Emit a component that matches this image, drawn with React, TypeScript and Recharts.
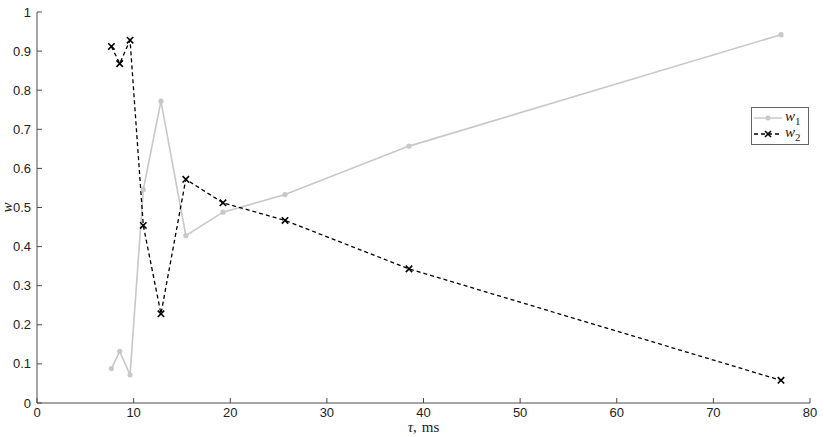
import React from 'react';
import { LineChart, Line, XAxis, YAxis, Label } from 'recharts';

const tau = [7.7, 8.56, 9.63, 11.0, 12.83, 15.4, 19.25, 25.67, 38.5, 77];
const w1 = [0.088, 0.132, 0.072, 0.546, 0.772, 0.428, 0.488, 0.533, 0.657, 0.942];
const w2 = [0.912, 0.868, 0.928, 0.454, 0.228, 0.572, 0.512, 0.467, 0.343, 0.058];
const xTicks = [0, 10, 20, 30, 40, 50, 60, 70, 80];
const yTicks = [0, 0.1, 0.2, 0.3, 0.4, 0.5, 0.6, 0.7, 0.8, 0.9, 1];

const data = tau.map((t, i) => ({ tau: t, w1: w1[i], w2: w2[i] }));

const AXIS = '#4a4a4a';
const TXT = '#222';
const W1C = '#c8c8c8';
const FONT = '"Liberation Sans", Arial, sans-serif';
const SERIF = '"Liberation Serif", "DejaVu Serif", serif';

const XTick = (props: any) => {
  const { x, y, payload } = props;
  return (
    <g>
      <line x1={x} x2={x} y1={y} y2={y - 5} stroke={AXIS} strokeWidth={1} />
      <text x={x} y={y} dy={14} textAnchor="middle" fontSize={13} fontFamily={FONT} fill={TXT}>
        {payload.value}
      </text>
    </g>
  );
};

const YTick = (props: any) => {
  const { x, y, payload } = props;
  return (
    <g>
      <line x1={x + 6} x2={x + 11} y1={y} y2={y} stroke={AXIS} strokeWidth={1} />
      <text x={x} y={y} dy={4.5} textAnchor="end" fontSize={13} fontFamily={FONT} fill={TXT}>
        {String(payload.value)}
      </text>
    </g>
  );
};

const CrossDot = (props: any) => {
  const { cx, cy, index } = props;
  if (cx == null || cy == null) return null;
  const s = 3.2;
  return (
    <path
      key={`c${index}`}
      d={`M${cx - s},${cy - s}L${cx + s},${cy + s}M${cx - s},${cy + s}L${cx + s},${cy - s}`}
      stroke="#000"
      strokeWidth={1.6}
      fill="none"
    />
  );
};

const RoundDot = (props: any) => {
  const { cx, cy, index } = props;
  if (cx == null || cy == null) return null;
  return <circle key={`d${index}`} cx={cx} cy={cy} r={2.6} fill={W1C} stroke="none" />;
};

const LegendBox = () => (
  <div
    style={{
      position: 'absolute',
      left: 751,
      top: 107,
      border: '1px solid #666',
      background: '#fff',
      width: 58,
      height: 38,
      boxSizing: 'border-box',
      padding: '2px 0 0 1px',
      fontFamily: SERIF,
      fontSize: 15,
      lineHeight: '16px',
    }}
  >
    <div style={{ display: 'flex', alignItems: 'center', height: 16 }}>
      <svg width={30} height={10}>
        <line x1={1} x2={29} y1={5} y2={5} stroke={W1C} strokeWidth={1.5} />
        <circle cx={15} cy={5} r={2.5} fill={W1C} />
      </svg>
      <span style={{ color: TXT, marginLeft: 2 }}>
        <i>w</i>
        <sub style={{ fontSize: 11 }}>1</sub>
      </span>
    </div>
    <div style={{ display: 'flex', alignItems: 'center', height: 16 }}>
      <svg width={30} height={10}>
        <line x1={1} x2={29} y1={5} y2={5} stroke="#000" strokeWidth={1.3} strokeDasharray="4 3" />
        <path d="M12,2L18,8M12,8L18,2" stroke="#000" strokeWidth={1.6} />
      </svg>
      <span style={{ color: TXT, marginLeft: 2 }}>
        <i>w</i>
        <sub style={{ fontSize: 11 }}>2</sub>
      </span>
    </div>
  </div>
);

const XLabel = (props: any) => {
  const { viewBox } = props;
  const cx = viewBox.x + viewBox.width / 2;
  return (
    <text x={cx} y={viewBox.y + 29} textAnchor="middle" fontSize={15} fontFamily={SERIF} fill={TXT}>
      <tspan fontStyle="italic">τ</tspan>
      <tspan>,</tspan>
      <tspan dx={5}>ms</tspan>
    </text>
  );
};

const YLabel = (props: any) => {
  const { viewBox } = props;
  const x = viewBox.x + 7;
  const y = viewBox.y + viewBox.height / 2;
  return (
    <text
      x={x}
      y={y}
      textAnchor="middle"
      dominantBaseline="central"
      fontSize={15}
      fontStyle="italic"
      fontFamily={SERIF}
      fill={TXT}
      transform={`rotate(-90 ${x} ${y})`}
    >
      w
    </text>
  );
};

export default function App() {
  return (
    <div style={{ position: 'absolute', left: 0, top: 0, width: 824, height: 437, background: '#fff' }}>
      <LineChart width={824} height={437} data={data} margin={{ top: 12, right: 14, bottom: 0, left: 0 }}>
        <XAxis
          dataKey="tau"
          type="number"
          domain={[0, 80]}
          ticks={xTicks}
          interval={0}
          tickSize={0}
          tickMargin={0}
          height={34}
          axisLine={{ stroke: AXIS, strokeWidth: 1 }}
          tickLine={false}
          tick={<XTick />}
        >
          <Label content={<XLabel />} />
        </XAxis>
        <YAxis
          type="number"
          domain={[0, 1]}
          ticks={yTicks}
          interval={0}
          width={37}
          tickSize={0}
          tickMargin={6}
          axisLine={{ stroke: AXIS, strokeWidth: 1 }}
          tickLine={false}
          tick={<YTick />}
        >
          <Label content={<YLabel />} />
        </YAxis>
        <Line
          dataKey="w1"
          stroke={W1C}
          strokeWidth={1.6}
          dot={<RoundDot />}
          activeDot={false}
          isAnimationActive={false}
        />
        <Line
          dataKey="w2"
          stroke="#000"
          strokeWidth={1.3}
          strokeDasharray="4 3"
          dot={<CrossDot />}
          activeDot={false}
          isAnimationActive={false}
        />
      </LineChart>
      <LegendBox />
    </div>
  );
}
